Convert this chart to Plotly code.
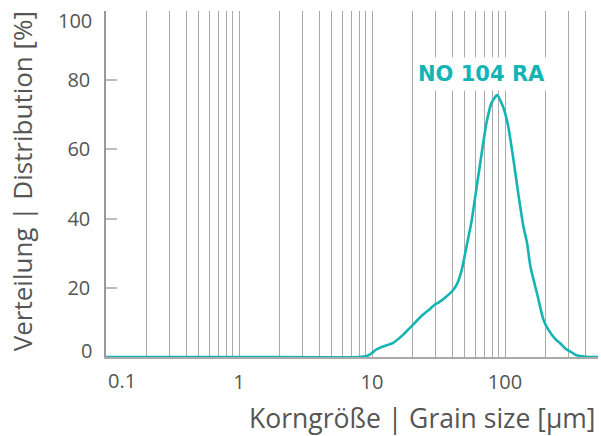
import plotly.graph_objects as go
import math

# Particle size distribution (grain size in µm, distribution in %)
grain_size = [0.1, 1.0, 8.1, 9.0, 9.6, 10.1, 10.7, 12.0, 14.3, 17.1, 19.7, 24.1, 27.3,
              29.6, 31.8, 36.3, 40.0, 43.3, 47.3, 51.3, 55.9, 59.2, 64.5, 72.5, 79.0,
              87.1, 96.6, 105.3, 114.8, 125.7, 137.5, 146.3, 155.3, 175.0, 194.3,
              211.5, 241.0, 259.5, 287.0, 318.0, 339.0, 380.0, 437.0, 500.0]
distribution = [0, 0, 0, 0.2, 0.7, 1.3, 2.1, 3.0, 4.0, 6.4, 8.8, 12.2, 13.9,
                15.1, 15.8, 17.5, 19.0, 20.9, 25.2, 31.9, 39.0, 45.4, 55.0, 67.6, 73.3,
                75.7, 72.3, 67.0, 57.9, 47.3, 37.7, 33.0, 26.1, 18.0, 10.8,
                7.9, 5.0, 4.0, 2.3, 1.3, 0.6, 0.2, 0, 0]
series_name = "NO 104 RA"

x_major = [1, 10, 100]
x_major_text = ["1", "10", "100"]
x_minor = [0.2, 0.3, 0.4, 0.5, 0.6, 0.7, 0.8, 0.9,
           2, 3, 4, 5, 6, 7, 8, 9,
           20, 30, 40, 50, 60, 70, 80, 90,
           200, 300, 400]
y_ticks = [0, 20, 40, 60, 80, 100]
y_tick_text = ["", "20", "40", "60", "80", ""]
x_min, x_max = 0.1, 500
y_min, y_max = 0, 100

x_title = "Korngröße | Grain size [µm]"
y_title = "Verteilung | Distribution [%]"

teal = "#14b4b4"
grey_text = "#555555"
font_main = "Open Sans, Noto Sans, sans-serif"

fig = go.Figure()
fig.add_trace(go.Scatter(
    x=grain_size, y=distribution, mode="lines",
    line=dict(color=teal, width=2.6, shape="spline", smoothing=0.6),
    name=series_name, showlegend=False, hoverinfo="skip"))

fig.update_layout(
    width=601, height=436,
    margin=dict(l=106, r=3, t=11, b=79, autoexpand=False),
    paper_bgcolor="white", plot_bgcolor="white",
    font=dict(family=font_main, color=grey_text),
    xaxis=dict(
        type="log", range=[math.log10(x_min), math.log10(x_max)], automargin=False,
        tickvals=x_major, ticktext=x_major_text,
        showgrid=True, gridcolor="#aaaaaa", gridwidth=1,
        ticks="", ticklabelstandoff=6,
        tickfont=dict(size=20, color=grey_text, family=font_main),
        showline=True, linecolor="#aaaaaa", linewidth=1.5,
        minor=dict(tickvals=x_minor, showgrid=True, gridcolor="#aaaaaa", gridwidth=1, ticks=""),
        zeroline=False, fixedrange=True),
    yaxis=dict(
        range=[y_min, y_max], automargin=False, tickvals=y_ticks, ticktext=y_tick_text,
        showgrid=False, zeroline=False,
        ticks="inside", ticklen=11, tickwidth=1.5, tickcolor="#bbbbbb",
        ticklabelstandoff=10,
        tickfont=dict(size=20, color=grey_text, family=font_main),
        showline=True, linecolor="#999999", linewidth=1.5, fixedrange=True),
)

# series label
fig.add_annotation(x=math.log10(66.8), y=81.7, xref="x", yref="y",
                   text="<b>" + series_name + "</b>", showarrow=False,
                   font=dict(size=21, color=teal, family="DejaVu Sans, Verdana, sans-serif"),
                   bgcolor="white", borderpad=4)
# edge tick labels, nudged inside the plot extent as in the original
tick_font = dict(size=20, color=grey_text, family=font_main)
fig.add_annotation(x=math.log10(x_min), y=0, xref="x", yref="paper", text=str(x_min),
                   showarrow=False, xanchor="left", yanchor="middle", yshift=-23,
                   font=tick_font)
fig.add_annotation(x=0, y=y_min, xref="paper", yref="y", text=str(y_min), showarrow=False,
                   xanchor="right", yanchor="middle", xshift=-12, yshift=7, font=tick_font)
fig.add_annotation(x=0, y=y_max, xref="paper", yref="y", text=str(y_max), showarrow=False,
                   xanchor="right", yanchor="middle", xshift=-12, yshift=-9, font=tick_font)
# axis titles
fig.add_annotation(x=1, y=0, xref="paper", yref="paper", text=x_title, showarrow=False,
                   xanchor="right", yanchor="middle", yshift=-61,
                   font=dict(size=26.5, color=grey_text, family=font_main))
fig.add_annotation(x=-0.1707, y=0.508, xref="paper", yref="paper", text=y_title, showarrow=False,
                   textangle=-90, xanchor="center", yanchor="middle",
                   font=dict(size=26, color=grey_text, family=font_main))

fig.write_html("out.html", config={"displayModeBar": False},
               post_script="document.body.style.margin='0';document.body.style.overflow='hidden';")
